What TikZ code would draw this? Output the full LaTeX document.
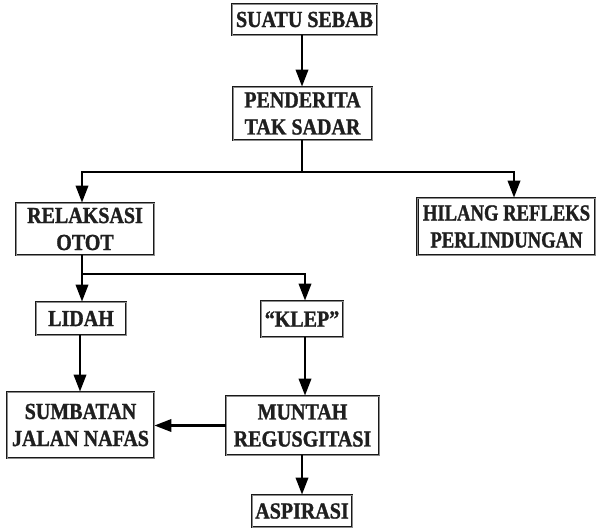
\documentclass[tikz,border=0pt]{standalone}
\usepackage{fontspec}
\setmainfont{Liberation Serif}[FakeStretch=0.87, BoldFeatures={FakeBold=1.2}]
\newfontfamily\narrowserif{Liberation Serif}[FakeStretch=0.81, BoldFeatures={FakeBold=1.2}]
\usetikzlibrary{arrows.meta}
\begin{document}
\begin{tikzpicture}[x=1pt,y=-1pt,
  box/.style={draw=black!90, line width=0.9pt, double=black!45, double distance=1pt,
    fill=white, inner sep=0pt, align=center, text=black!88,
    font=\fontsize{23}{27}\selectfont\bfseries},
  narrow/.style={font=\narrowserif\fontsize{23}{27}\selectfont\bfseries},
  arr/.style={line width=2.2pt, -{Triangle[length=17pt,width=12.5pt]}},
  link/.style={line width=2.2pt}]
\useasboundingbox (0,0) rectangle (596,531);

% boxes (centre, width, height)
\node[box, minimum width=145, minimum height=31] (sebab)    at (304.5,19.5) {SUATU SEBAB};
\node[box, minimum width=139, minimum height=53] (penderita) at (302.5,113.5) {PENDERITA\\TAK SADAR};
\node[box, minimum width=138, minimum height=52] (relaksasi) at (85,229) {RELAKSASI\\OTOT};
\node[box, narrow, minimum width=178, minimum height=57] (hilang) at (506.5,226.5) {HILANG REFLEKS\\PERLINDUNGAN};
\node[box, minimum width=90,  minimum height=33] (lidah)     at (81,318.5) {LIDAH};
\node[box, minimum width=82,  minimum height=36] (klep)      at (302,319) {``KLEP''};
\node[box, minimum width=147, minimum height=66] (sumbatan)  at (80.5,425) {SUMBATAN\\JALAN NAFAS};
\node[box, minimum width=153, minimum height=59] (muntah)    at (302.5,425.5) {MUNTAH\\REGUSGITASI};
\node[box, minimum width=100, minimum height=32] (aspirasi)  at (302,511) {ASPIRASI};

% branch points and arrow columns
\coordinate (c302) at (302,0);
\coordinate (c82)  at (82,0);
\coordinate (c80)  at (80,0);
\coordinate (c305) at (305,0);
\coordinate (c514) at (514,0);
\coordinate (j1)   at (302,172);
\coordinate (j2)   at (82,274);

% connectors
\draw[arr] (sebab.south -| c302) -- (penderita.north -| c302);
\draw[link] (penderita.south -| c302) -- (j1);
\draw[arr] (j1) -| (relaksasi.north -| c82);
\draw[arr] (j1) -| (hilang.north -| c514);
\draw[link] (relaksasi.south -| c82) -- (j2);
\draw[arr] (j2) -- (lidah.north -| c82);
\draw[arr] (j2) -| (klep.north -| c305);
\draw[arr] (lidah.south -| c80) -- (sumbatan.north -| c80);
\draw[arr] (klep.south -| c305) -- (muntah.north -| c305);
\draw[arr] (muntah.west) -- (sumbatan.east |- muntah.west);
\draw[arr] (muntah.south -| c302) -- (aspirasi.north -| c302);
\end{tikzpicture}
\end{document}
